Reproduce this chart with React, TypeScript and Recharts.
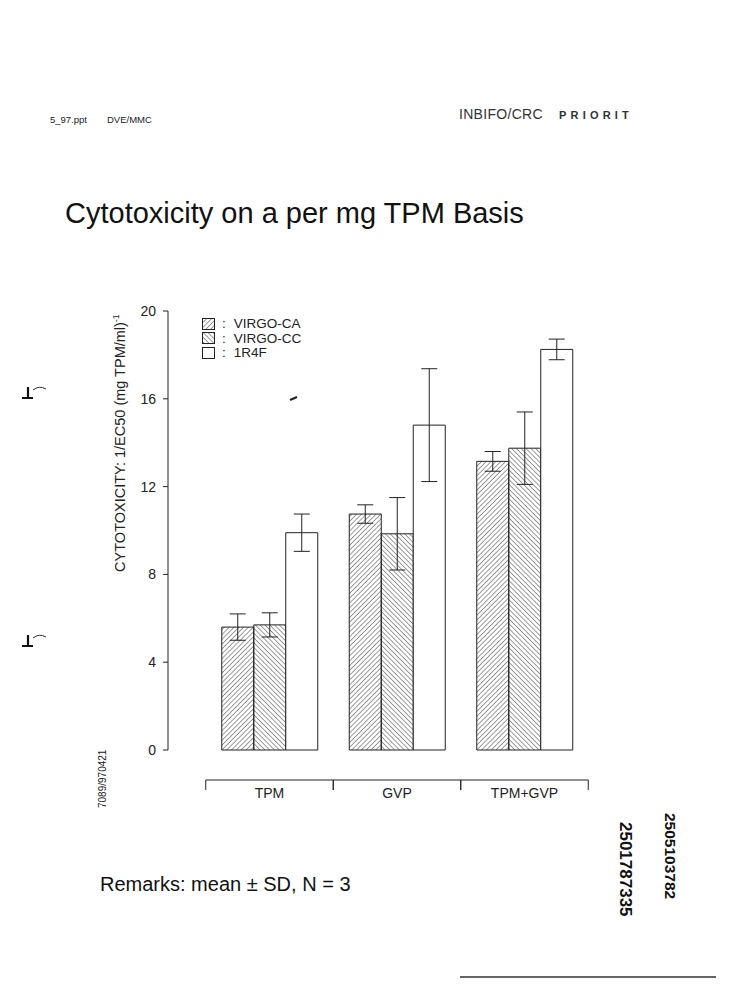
import React from 'react';
import { BarChart, Bar, XAxis, YAxis, ErrorBar } from 'recharts';

// values
const categories = ['TPM', 'GVP', 'TPM+GVP'];
const virgoCA = [5.6, 10.75, 13.15];
const virgoCASd = [0.6, 0.42, 0.45];
const virgoCC = [5.7, 9.85, 13.75];
const virgoCCSd = [0.55, 1.65, 1.65];
const r4f = [9.9, 14.8, 18.25];
const r4fSd = [0.85, 2.57, 0.47];
const yTicks = [0, 4, 8, 12, 16, 20];

const seriesInfo = [
  { key: 'ca', label: 'VIRGO-CA', fill: 'url(#hatchUp)' },
  { key: 'cc', label: 'VIRGO-CC', fill: 'url(#hatchDown)' },
  { key: 'r4f', label: '1R4F', fill: '#ffffff' },
];

const data = categories.map((name, i) => ({
  name,
  ca: virgoCA[i],
  caSd: virgoCASd[i],
  cc: virgoCC[i],
  ccSd: virgoCCSd[i],
  r4f: r4f[i],
  r4fSd: r4fSd[i],
}));

const FONT = '"Liberation Sans", Arial, Helvetica, sans-serif';

// x axis drawn as a bracket spanning each category band
const BracketTick = (props: any) => {
  const { x, y, payload } = props;
  const half = payload?.offset || 63.75;
  const ly = y + 30;
  return (
    <g>
      <line x1={x - half} y1={ly} x2={x + half} y2={ly} stroke="#222" strokeWidth={1} />
      <line x1={x - half} y1={ly} x2={x - half} y2={ly + 10} stroke="#222" strokeWidth={1} />
      <line x1={x + half} y1={ly} x2={x + half} y2={ly + 10} stroke="#222" strokeWidth={1} />
      <text x={x} y={ly + 18} textAnchor="middle" fontSize={14} fontFamily={FONT} fill="#222">
        {payload.value}
      </text>
    </g>
  );
};

const YTick = (props: any) => {
  const { x, y, payload } = props;
  return (
    <text x={x - 1} y={y + 5} textAnchor="end" fontSize={14} fontFamily={FONT} fill="#222">
      {payload.value}
    </text>
  );
};

const LegendBox = () => (
  <div style={{ position: 'absolute', left: 202, top: 317, fontFamily: FONT, fontSize: 13.5, color: '#222', lineHeight: '14.5px' }}>
    {seriesInfo.map(s => (
      <div key={s.key} style={{ display: 'flex', alignItems: 'center', height: 14.5 }}>
        <svg width={14} height={13} style={{ display: 'block' }}>
          <rect x={0.5} y={0.5} width={12} height={11} fill={s.fill} stroke="#222" strokeWidth={1} />
        </svg>
        <span style={{ marginLeft: 6 }}>:</span>
        <span style={{ marginLeft: 8 }}>{s.label}</span>
      </div>
    ))}
  </div>
);

const ScanMark = ({ y }: { y: number }) => (
  <g>
    <path d={`M 28 ${y - 8} L 28 ${y + 2}`} stroke="#111" strokeWidth={2.2} fill="none" />
    <path d={`M 22 ${y + 3} L 33 ${y + 3}`} stroke="#111" strokeWidth={2} fill="none" />
    <path d={`M 33 ${y - 5} Q 39 ${y - 10} 46 ${y - 6}`} stroke="#333" strokeWidth={1} fill="none" />
  </g>
);

const Decorations = () => (
  <svg width={754} height={1000} style={{ position: 'absolute', left: 0, top: 0, pointerEvents: 'none' }}>
    {/* header */}
    <text x={50} y={123} fontSize={9.5} fontFamily={FONT} fill="#222">5_97.ppt</text>
    <text x={107} y={123} fontSize={9.5} fontFamily={FONT} fill="#222">DVE/MMC</text>
    <text x={459} y={119} fontSize={14} letterSpacing={0.3} fontFamily={FONT} fill="#333">INBIFO/CRC</text>
    <text x={559} y={119} fontSize={11} fontWeight="bold" letterSpacing={4.2} fontFamily={FONT} fill="#333">PRIORIT</text>

    {/* title */}
    <text x={65} y={223} fontSize={29} fontFamily={FONT} fill="#111">Cytotoxicity on a per mg TPM Basis</text>

    {/* y axis title */}
    <text transform="translate(125,443) rotate(-90)" textAnchor="middle" fontSize={14.5} fontFamily={FONT} fill="#222">
      CYTOTOXICITY: 1/EC50 (mg TPM/ml)<tspan fontSize={9} dy={-6}>-1</tspan>
    </text>

    {/* file stamp */}
    <text transform="translate(106,808) rotate(-90)" fontSize={10} fontFamily={FONT} fill="#222">7089/970421</text>

    {/* stray scan marks */}
    <line x1={290} y1={400} x2={297} y2={397} stroke="#222" strokeWidth={2} />
    <ScanMark y={395} />
    <ScanMark y={643} />

    {/* remarks */}
    <text x={100} y={891} fontSize={20} fontFamily={FONT} fill="#111">Remarks: mean ± SD, N = 3</text>

    {/* document numbers */}
    <text transform="translate(665,813) rotate(90)" fontSize={15.5} fontWeight="bold" fontFamily={FONT} fill="#111">2505103782</text>
    <text transform="translate(620,822) rotate(90)" fontSize={17} fontWeight="bold" fontFamily={FONT} fill="#111">2501787335</text>

    {/* bottom rule */}
    <line x1={460} y1={977} x2={716} y2={977} stroke="#333" strokeWidth={1.5} />
  </svg>
);

export default function App() {
  return (
    <div style={{ position: 'absolute', left: 0, top: 0, width: 754, height: 1000, background: '#fff', overflow: 'hidden' }}>
      <BarChart
        width={754}
        height={1000}
        data={data}
        margin={{ top: 311, right: 165.75, bottom: 200, left: 108 }}
        barGap={0}
        barSize={32}
      >
        <defs>
          <pattern id="hatchUp" width={3.4} height={3.4} patternUnits="userSpaceOnUse" patternTransform="rotate(45)">
            <line x1={0} y1={0} x2={0} y2={3.4} stroke="#222" strokeWidth={0.9} />
          </pattern>
          <pattern id="hatchDown" width={3.4} height={3.4} patternUnits="userSpaceOnUse" patternTransform="rotate(-45)">
            <line x1={0} y1={0} x2={0} y2={3.4} stroke="#222" strokeWidth={0.9} />
          </pattern>
        </defs>
        <XAxis
          dataKey="name"
          padding={{ left: 37.75, right: 0 }}
          axisLine={false}
          tickLine={false}
          tickSize={0}
          tickMargin={0}
          interval={0}
          height={50}
          tick={<BracketTick />}
        />
        <YAxis
          domain={[0, 20]}
          ticks={yTicks}
          width={60}
          tickSize={5}
          tickMargin={6}
          axisLine={{ stroke: '#222', strokeWidth: 1 }}
          tickLine={{ stroke: '#222', strokeWidth: 1 }}
          tick={<YTick />}
        />
        {seriesInfo.map(s => (
          <Bar key={s.key} dataKey={s.key} name={s.label} fill={s.fill} stroke="#222" strokeWidth={1} isAnimationActive={false}>
            <ErrorBar dataKey={`${s.key}Sd`} width={8} stroke="#222" strokeWidth={1} direction="y" />
          </Bar>
        ))}
      </BarChart>
      <LegendBox />
      <Decorations />
    </div>
  );
}
